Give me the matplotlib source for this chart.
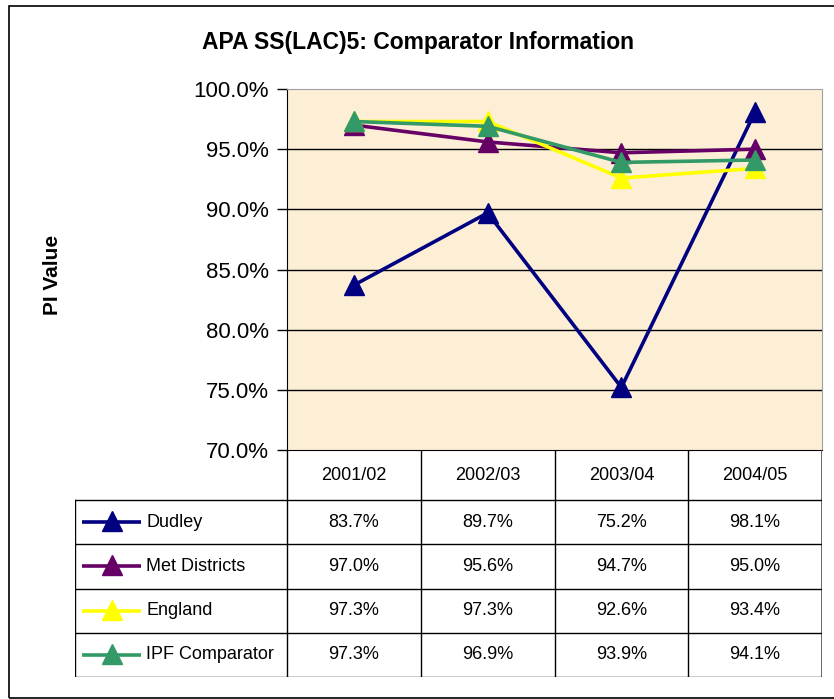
import matplotlib
matplotlib.use("Agg")
import matplotlib.pyplot as plt
from matplotlib.patches import Rectangle

plt.rcParams['font.family'] = ['Liberation Sans', 'DejaVu Sans']

# data
years = ['2001/02', '2002/03', '2003/04', '2004/05']
series_names = ['Dudley', 'Met Districts', 'England', 'IPF Comparator']
dudley = [83.7, 89.7, 75.2, 98.1]
met_districts = [97.0, 95.6, 94.7, 95.0]
england = [97.3, 97.3, 92.6, 93.4]
ipf_comparator = [97.3, 96.9, 93.9, 94.1]
colors = ['#000080', '#660066', '#FFFF00', '#339966']
yticks = [70, 75, 80, 85, 90, 95, 100]

all_series = [dudley, met_districts, england, ipf_comparator]

W, H = 834, 699
fig = plt.figure(figsize=(W / 100, H / 100), dpi=100)

# outer chart border
fig.patches.append(Rectangle((9 / W, 1 - 698 / H), 1.0, (698 - 6) / H,
                             transform=fig.transFigure, fill=False,
                             ec='black', lw=1.2))

# plot area
px_l, px_r, px_t, px_b = 287, 822, 89, 450
ax = fig.add_axes([px_l / W, 1 - px_b / H, (px_r - px_l) / W, (px_b - px_t) / H])
ax.set_facecolor('#FCEFD6')
x = range(len(years))
order = [1, 2, 3, 0]
for i in order:
    ax.plot(x, all_series[i], color=colors[i], lw=2.6, marker='^', ms=15,
            mec=colors[i], mfc=colors[i], solid_joinstyle='miter', zorder=3 + i)
ax.set_xlim(-0.5, 3.5)
ax.set_ylim(70, 100)
ax.set_yticks(yticks)
ax.set_yticklabels(['%.1f%%' % v for v in yticks], fontsize=16)
ax.set_xticks([])
for v in yticks[1:-1]:
    ax.axhline(v, color='black', lw=1.0, zorder=1)
ax.tick_params(axis='y', length=7, width=1, pad=6, direction='out')
ax.spines['left'].set_color('black')
ax.spines['bottom'].set_color('black')
ax.spines['top'].set_color('#A0A0A0')
ax.spines['right'].set_color('#A0A0A0')

fig.text(52 / W, 1 - 275 / H, 'PI Value', rotation=90, ha='center', va='center',
         fontsize=15, fontweight='bold')
fig.text(418 / W, 1 - 42 / H, 'APA SS(LAC)5: Comparator Information',
         ha='center', va='center', fontsize=16.5, fontweight='bold')

# data table under the plot, sharing the category positions
col_w = (px_r - px_l) / 4.0
tab_l = 75
leg_left = -0.5 - (px_l - tab_l) / col_w
tax = fig.add_axes([tab_l / W, 1 - 677 / H, (px_r - tab_l) / W, (677 - px_b) / H])
tax.set_xlim(leg_left, 3.5)
head_h = 50
row_h = (677 - px_b - head_h) / 4.0
tax.set_ylim(677 - px_b, 0)
tax.axis('off')

lc = 'black'
for xb in [-0.5, 0.5, 1.5, 2.5]:
    tax.plot([xb, xb], [0, 677 - px_b], color=lc, lw=1.0)
tax.plot([3.5, 3.5], [0, 677 - px_b], color='#505050', lw=1.2)
tax.plot([leg_left, leg_left], [head_h, 677 - px_b], color=lc, lw=1.0)
for r in range(5):
    yb = head_h + r * row_h
    tax.plot([leg_left, 3.5], [yb, yb], color=lc, lw=1.0)

for j, yr in enumerate(years):
    tax.text(j, head_h / 2, yr, ha='center', va='center', fontsize=13)

def px2u(px):
    return -0.5 + (px - px_l) / col_w

for r, name in enumerate(series_names):
    yc = head_h + (r + 0.5) * row_h
    tax.plot([px2u(82), px2u(141)], [yc, yc], color=colors[r], lw=2.6,
             solid_capstyle='butt')
    tax.plot([px2u(111.5)], [yc - 1], marker='^', ms=14, color=colors[r])
    tax.text(px2u(146), yc, name, ha='left', va='center', fontsize=13)
    for j, v in enumerate(all_series[r]):
        tax.text(j, yc, '%.1f%%' % v, ha='center', va='center', fontsize=13)

fig.savefig('out.png', dpi=100)
